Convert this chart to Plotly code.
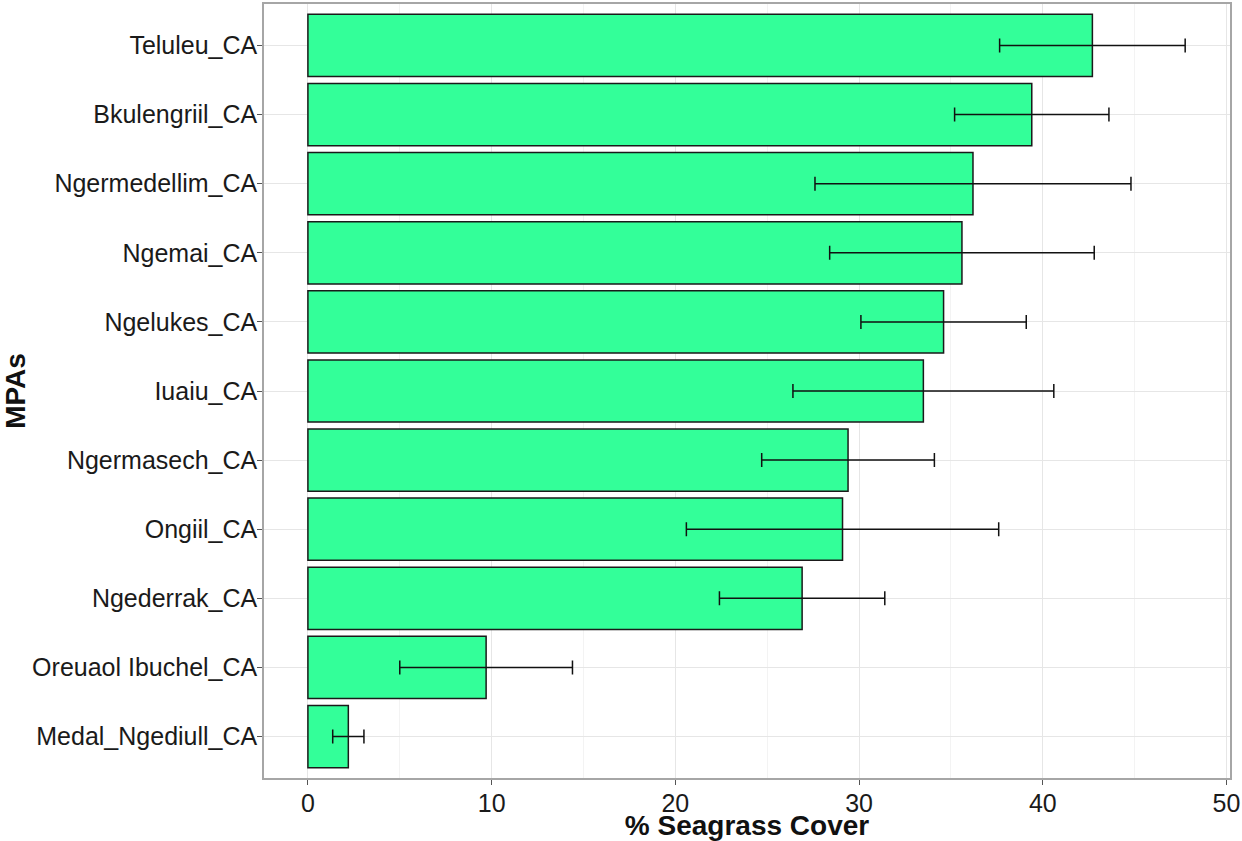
import plotly.graph_objects as go

# Mean seagrass cover (%) and standard error per MPA, bottom to top
mpas = [
    "Medal_Ngediull_CA", "Oreuaol Ibuchel_CA", "Ngederrak_CA", "Ongiil_CA",
    "Ngermasech_CA", "Iuaiu_CA", "Ngelukes_CA", "Ngemai_CA",
    "Ngermedellim_CA", "Bkulengriil_CA", "Teluleu_CA",
]
cover = [2.2, 9.7, 26.9, 29.1, 29.4, 33.5, 34.6, 35.6, 36.2, 39.4, 42.7]
se = [0.85, 4.7, 4.5, 8.5, 4.7, 7.1, 4.5, 7.2, 8.6, 4.2, 5.05]
x_ticks = [0, 10, 20, 30, 40, 50]

fig = go.Figure()
fig.add_trace(go.Bar(
    y=mpas, x=cover, orientation="h", width=0.9,
    marker=dict(color="#33FF99", line=dict(color="#1a1a1a", width=1.5)),
    error_x=dict(type="data", array=se, visible=True, color="#111111",
                 thickness=1.5, width=7),
))

font_family = "Liberation Sans, Arial, sans-serif"
fig.update_layout(
    width=1242, height=841,
    margin=dict(l=264, r=8, t=2, b=63),
    paper_bgcolor="white", plot_bgcolor="white",
    showlegend=False,
    font=dict(family=font_family, color="#1a1a1a"),
    bargap=0.1,
)
fig.update_xaxes(
    range=[-2.39, 50.19], tickvals=x_ticks,
    showgrid=True, gridcolor="#e6e6e6", gridwidth=1.2,
    minor=dict(showgrid=True, gridcolor="#f3f3f3", gridwidth=1, tick0=0, dtick=5),
    zeroline=False,
    showline=True, mirror=True, linecolor="#a6a6a6", linewidth=1.5,
    ticks="outside", ticklen=5, tickcolor="#555555", tickwidth=1.2,
    tickfont=dict(size=25, color="#1a1a1a"),
    ticklabeloverflow="allow",
    ticklabelstandoff=-3,
    title=dict(text="<b>% Seagrass Cover</b>", font=dict(size=28, color="#111111"), standoff=0),
)
fig.update_yaxes(
    type="category", categoryorder="array", categoryarray=mpas,
    range=[-0.6, 10.6],
    showgrid=True, gridcolor="#e6e6e6", gridwidth=1.2,
    zeroline=False,
    showline=True, mirror=True, linecolor="#a6a6a6", linewidth=1.5,
    ticks="outside", ticklen=5, tickcolor="#555555", tickwidth=1.2,
    tickfont=dict(size=25, color="#1a1a1a"),
    ticklabelstandoff=-5,
    title=dict(text="<b>MPAs</b>", font=dict(size=28, color="#111111"), standoff=4),
)

fig.write_html("out.html")
